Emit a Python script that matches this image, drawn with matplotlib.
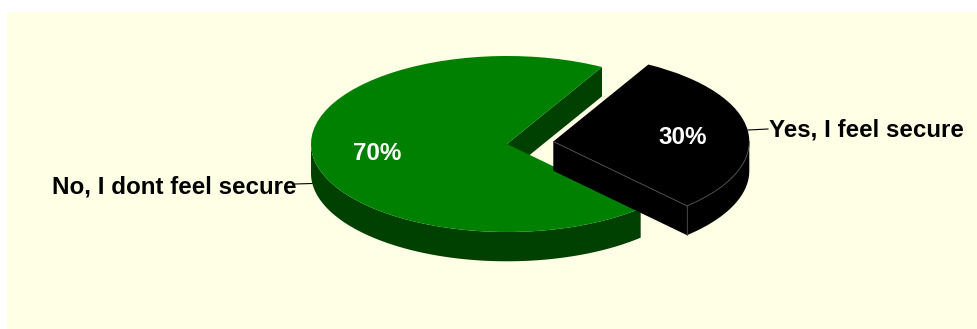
import numpy as np
import matplotlib.pyplot as plt
from matplotlib.patches import Polygon

labels = ['Yes, I feel secure', 'No, I dont feel secure']
values = [30, 70]
pct_labels = ['30%', '70%']
colors = ['#000000', '#008000']
wall_colors = ['#000000', '#004000']

W, H = 978, 329
CX, CY = 507, 144   # pie centre in pixels
RX, RY = 196, 88    # pie radii in pixels
DEPTH = 29.3 / RY   # thickness of the disc
START = 61          # angle where the green slice starts

plt.rcParams['font.family'] = ['Liberation Sans', 'DejaVu Sans']
plt.rcParams['font.weight'] = 'bold'

fig = plt.figure(figsize=(W / 100, H / 100), dpi=100, facecolor='white')
ax = fig.add_axes([0, 0, 1, 1])


def px(x, y):
    return (x - CX) / RX, (CY - y) / RY


def rim(center, deg):
    return center[0] + np.cos(np.radians(deg)), center[1] + np.sin(np.radians(deg))


def outer_wall(center, a, b, color, z, lw=0):
    # side of the disc between two angles
    t = np.radians(np.linspace(a, b, 80))
    xs = center[0] + np.cos(t)
    ys = center[1] + np.sin(t)
    pts = np.r_[np.c_[xs, ys], np.c_[xs, ys - DEPTH][::-1]]
    ax.add_patch(Polygon(pts, closed=True, fc=color, ec=color, lw=lw, zorder=z))


def cut_face(center, deg, color, z):
    x, y = rim(center, deg)
    pts = [center, (x, y), (x, y - DEPTH), (center[0], center[1] - DEPTH)]
    ax.add_patch(Polygon(pts, closed=True, fc=color, ec=color, lw=0, zorder=z))


# panel behind the chart
ax.add_patch(plt.Rectangle(px(7, 329), (W - 7) / RX, (H - 12) / RY, fc='#FFFFE6', ec='none', zorder=0))

span = 360 * values[1] / sum(values)
green_end = START + span

green_c = (0, 0)
black_c = px(553.3, 141.5)

# green slice: walls first, then the top
cut_face(green_c, START, wall_colors[1], 1)
outer_wall(green_c, 180, green_end, wall_colors[1], 2)
wedges, _ = ax.pie([values[1], values[0]], colors=[colors[1], 'none'], startangle=START,
                   counterclock=True, center=green_c, radius=1, frame=True)
for w in wedges:
    w.set_zorder(3)

# black slice, pulled away from the pie
outer_wall(black_c, green_end, 360, wall_colors[0], 4)
cut_face(black_c, green_end, wall_colors[0], 4)
wedges, _ = ax.pie([values[0], values[1]], colors=[colors[0], 'none'], startangle=green_end,
                   counterclock=True, center=black_c, radius=1, frame=True)
for w in wedges:
    w.set_zorder(5)

# thin grey edges on the black slice
ex, ey = rim(black_c, green_end)
t = np.radians(np.linspace(green_end, 360, 60))
edge = '#4d4d4d'
ax.plot([black_c[0], ex], [black_c[1], ey], color=edge, lw=0.6, zorder=6)
ax.plot([ex, ex], [ey, ey - DEPTH], color=edge, lw=0.6, zorder=6)
ax.plot(black_c[0] + np.cos(t), black_c[1] + np.sin(t), color=edge, lw=0.6, zorder=6)

# leader lines
ax.plot(*zip(px(748, 130), px(768, 129)), color='black', lw=0.8, zorder=6)
ax.plot(*zip(px(295, 184), px(312, 183.5)), color='black', lw=0.8, zorder=6)

# labels
ax.text(*px(769, 130), labels[0], fontsize=17.35, ha='left', va='center', color='black', zorder=7)
ax.text(*px(296, 187), labels[1], fontsize=17.35, ha='right', va='center', color='black', zorder=7)
ax.text(*px(683, 138), pct_labels[0], fontsize=17.35, ha='center', va='center', color='white', zorder=7)
ax.text(*px(377, 154), pct_labels[1], fontsize=17.35, ha='center', va='center', color='white', zorder=7)

ax.set_aspect('auto')
ax.set_xlim(-CX / RX, (W - CX) / RX)
ax.set_ylim((CY - H) / RY, CY / RY)
ax.axis('off')

fig.savefig('out.png', dpi=100)
